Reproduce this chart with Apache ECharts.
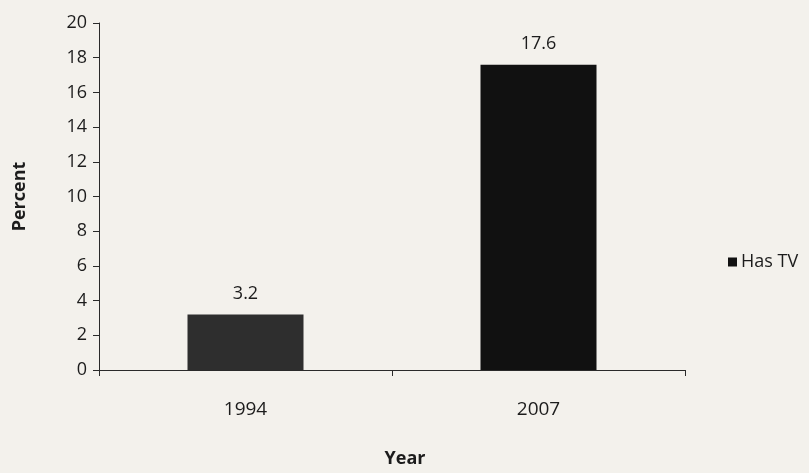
<!DOCTYPE html>
<html>
<head>
<meta charset="utf-8">
<script src="https://cdn.jsdelivr.net/npm/echarts@6/dist/echarts.min.js"></script>
<style>
html,body{margin:0;padding:0;background:#f3f1ec;}
#c{width:809px;height:473px;}
</style>
</head>
<body>
<div id="c"></div>
<script>
var categories = ['1994', '2007'];
var hasTV = [3.2, 17.6];
var barColors = ['#2e2e2e', '#111111'];
var seriesName = 'Has TV';
var yMin = 0, yMax = 20, yStep = 2;

var chart = echarts.init(document.getElementById('c'));
var font = 'Open Sans';
var txt = '#1c1c1c';
chart.setOption({
  backgroundColor: '#f3f1ec',
  animation: false,
  grid: { left: 99, top: 23, right: 124, bottom: 101, containLabel: false },
  legend: {
    data: [seriesName],
    left: 723, top: 248,
    icon: 'rect', itemWidth: 9, itemHeight: 9, itemGap: 6,
    textStyle: { fontFamily: font, fontSize: 18, color: txt, padding: [0,0,0,-1] },
    itemStyle: { color: '#111' }
  },
  xAxis: {
    type: 'category',
    data: categories,
    name: 'Year',
    nameLocation: 'middle',
    nameGap: 80,
    nameTextStyle: { fontFamily: font, fontSize: 18, fontWeight: 'bold', color: txt, padding: [0,0,0,26] },
    axisLine: { lineStyle: { color: '#2a2a2a', width: 1 } },
    axisTick: { show: true, alignWithLabel: false, length: 6, lineStyle: { color: '#2a2a2a' } },
    axisLabel: { fontFamily: font, fontSize: 19, color: txt, margin: 30 }
  },
  yAxis: {
    type: 'value',
    min: yMin, max: yMax, interval: yStep,
    name: 'Percent',
    nameLocation: 'middle',
    nameGap: 70,
    nameTextStyle: { fontFamily: font, fontSize: 18, fontWeight: 'bold', color: txt },
    axisLine: { show: true, lineStyle: { color: '#2a2a2a', width: 1 } },
    axisTick: { show: true, length: 6, lineStyle: { color: '#2a2a2a' } },
    splitLine: { show: false },
    axisLabel: { fontFamily: font, fontSize: 18, color: txt, margin: 12 }
  },
  series: [{
    name: seriesName,
    type: 'bar',
    barWidth: 116,
    data: hasTV.map(function (v, i) { return { value: v, itemStyle: { color: barColors[i] } }; }),
    itemStyle: { color: '#111' },
    label: {
      show: true, position: 'top', distance: 12,
      fontFamily: font, fontSize: 18, color: txt
    }
  }]
});
</script>
</body>
</html>
